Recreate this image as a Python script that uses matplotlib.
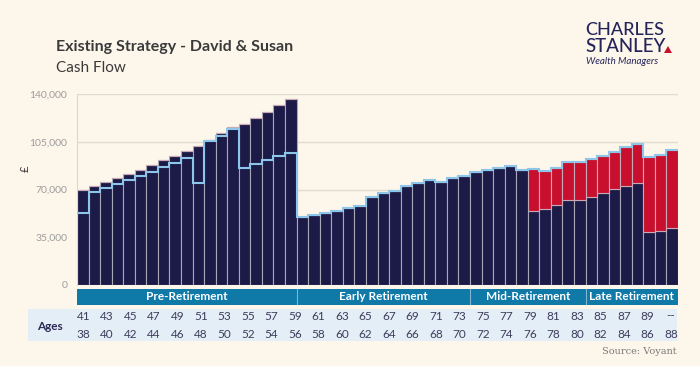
import numpy as np
import matplotlib.pyplot as plt
from matplotlib.patches import Rectangle, Polygon
from matplotlib.transforms import blended_transform_factory

# Cash flow per year (GBP), one bar per year of David's age 41..92
income = [70000, 72800, 75500, 78500, 81400, 84600, 87800, 91400, 94700, 98300,
          102000, 106500, 111300, 115800, 118200, 122400, 127100, 131700, 136400,
          50200, 51400, 53100, 54600, 56400, 58100, 64200, 67100, 69100, 72300,
          74800, 77200, 75700, 78200, 80200, 82900, 84600, 85800, 87000, 84600,
          53900, 55600, 58300, 62000, 62200, 64500, 67400, 70600, 72800, 74800,
          39100, 39400, 42100]
shortfall = [0] * 39 + [30900, 27700, 27500, 27800, 27600, 27500, 27000, 27000,
                        28000, 28200, 54800, 56000, 56700]
spending = [53100, 68100, 71100, 74300, 77200, 79700, 82900, 86300, 89700, 93200,
            74800, 105200, 109100, 114600, 85800, 89000, 91700, 94900, 96400,
            50200, 51400, 53100, 54600, 56400, 58100, 64200, 67100, 69100, 72300,
            74800, 77200, 75700, 78200, 80200, 82900, 84600, 85800, 87000, 84600,
            84800, 83300, 85800, 89800, 89800, 92000, 94400, 97600, 100800, 103000,
            93900, 95400, 98800]

phases = ["Pre-Retirement", "Early Retirement", "Mid-Retirement", "Late Retirement"]
phase_bars = [19, 15, 10, 8]
ages_david = [str(a) for a in range(41, 90, 2)] + ["--"]
ages_susan = [str(a) for a in range(38, 89, 2)]
yticks = [0, 35000, 70000, 105000, 140000]

bg = "#fdf6eb"
navy = "#1c1a47"
red = "#c8102e"
lblue = "#8ec6ea"
band = "#0f79a8"

W, H = 700, 366
fig = plt.figure(figsize=(7, 3.66), dpi=100, facecolor=bg)
plt.rcParams["font.family"] = ["Lato", "DejaVu Sans"]

ax = fig.add_axes([77 / W, 1 - 285 / H, 601 / W, 191 / H])
ax.set_facecolor(bg)
x = np.arange(len(income))
ax.bar(x, income, width=1.0, color=navy, edgecolor="#a9a6b6", linewidth=0.8, zorder=2)
ax.bar(x, shortfall, bottom=income, width=1.0, color=red, edgecolor="#c9a9b6",
       linewidth=0.8, zorder=2)
ax.stairs(spending, np.arange(len(income) + 1) - 0.5, color=lblue, linewidth=1.5,
          baseline=None, zorder=3)

ax.set_xlim(-0.5, len(income) - 0.5)
ax.set_ylim(0, 140000)
ax.set_yticks(yticks)
ax.set_yticklabels([f"{v:,}" for v in yticks], color="#9c9c9c", fontsize=7.5)
ax.tick_params(axis="y", length=0, pad=7)
ax.set_xticks([])
ax.grid(axis="y", color="#e2dbd0", linewidth=1, zorder=0)
for s in ["top", "right", "bottom"]:
    ax.spines[s].set_visible(False)
ax.spines["left"].set_color("#ddd6cc")
fig.text(25 / W, 1 - 169 / H, "£", rotation=90, fontsize=8, color="#333333",
         ha="center", va="center")

# phase band
bax = fig.add_axes([77 / W, 1 - 305 / H, 601 / W, 16 / H])
bax.set_xlim(-0.5, len(income) - 0.5)
bax.set_ylim(0, 1)
bax.axis("off")
start = -0.5
for name, n in zip(phases, phase_bars):
    bax.axvspan(start, start + n, color=band, lw=0)
    bax.text(start + n / 2, 0.5, name, color="white", fontsize=8.5, weight="bold",
             ha="center", va="center")
    if start > -0.5:
        bax.axvline(start, color="#7fb6d2", lw=0.8)
    start += n

# ages table
fig.patches.append(Rectangle((28 / W, 1 - 341 / H), 649 / W, 32 / H,
                             transform=fig.transFigure, color="#e4eef6", lw=0))
fig.text(50 / W, 1 - 326 / H, "Ages", fontsize=8.5, weight="bold", color="#2b2b55",
         ha="center", va="center")
tr = blended_transform_factory(ax.transData, fig.transFigure)
pos = np.linspace(0.05, 50.9, len(ages_david))
for p, a, b in zip(pos, ages_david, ages_susan):
    fig.text(p, 1 - 316 / H, a, transform=tr, fontsize=8.5, color="#3d3d5c",
             ha="center", va="center")
    fig.text(p, 1 - 334 / H, b, transform=tr, fontsize=8.5, color="#3d3d5c",
             ha="center", va="center")

fig.text(677 / W, 1 - 351 / H, "Source: Voyant", fontsize=7, color="#7a7a7a",
         ha="right", va="center", family="DejaVu Serif")

# titles
fig.text(56 / W, 1 - 47 / H, "Existing Strategy - David & Susan", fontsize=11.5,
         weight="bold", color="#3a3a3a", va="center")
fig.text(56 / W, 1 - 68 / H, "Cash Flow", fontsize=11, color="#3a3a3a", va="center")

# logo
fig.text(585 / W, 1 - 30 / H, "CHARLES", fontsize=13, color="#25245a", va="center",
         weight="medium")
fig.text(585 / W, 1 - 47 / H, "STANLEY", fontsize=13.5, color="#25245a", va="center",
         weight="medium")
fig.text(586 / W, 1 - 62 / H, "Wealth Managers", fontsize=7, style="italic",
         color="#25245a", va="center")
fig.patches.append(Polygon([(664 / W, 1 - 53 / H), (672 / W, 1 - 53 / H),
                            (668 / W, 1 - 46 / H)], closed=True,
                           transform=fig.transFigure, color="#c8102e", lw=0))

fig.savefig("out.png", dpi=100, facecolor=bg)
